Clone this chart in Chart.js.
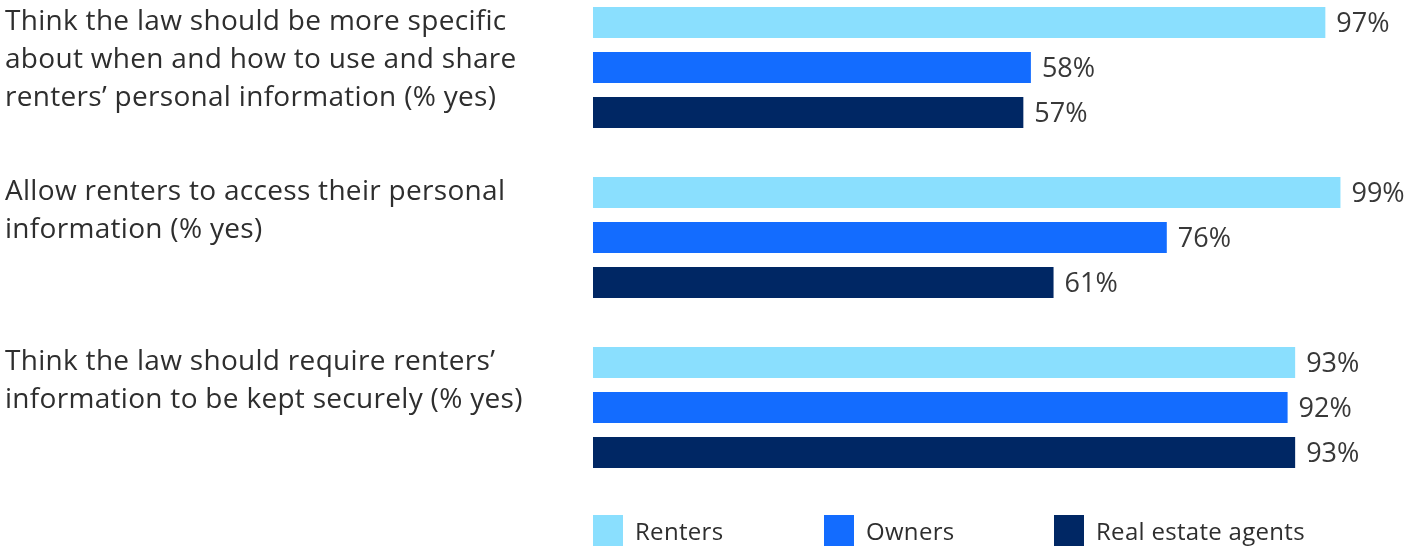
<!DOCTYPE html>
<html>
<head>
<meta charset="utf-8">
<script src="https://cdn.jsdelivr.net/npm/chart.js@4.4.1/dist/chart.umd.min.js"></script>
<style>
  html, body { margin: 0; padding: 0; background: #fff; }
  #wrap { width: 1419px; height: 547px; position: relative; }
</style>
</head>
<body>
<div id="wrap"><canvas id="chart"></canvas></div>
<script>
// Données
const categories = [
  ['Think the law should be more specific', 'about when and how to use and share', 'renters\u2019 personal information (% yes)'],
  ['Allow renters to access their personal', 'information (% yes)'],
  ['Think the law should require renters\u2019', 'information to be kept securely (% yes)']
];
const seriesNames = ['Renters', 'Owners', 'Real estate agents'];
const renters = [97, 99, 93];
const owners = [58, 76, 92];
const agents = [57, 61, 93];
const seriesColors = ['#8adffe', '#136cff', '#002764'];

const FONT = '"Open Sans", "Noto Sans", sans-serif';
const TEXT = '#2e2e2e';

// Étiquettes, valeurs et légende dessinées à la main
const labelsPlugin = {
  id: 'labelsPlugin',
  afterDraw(chart) {
    const ctx = chart.ctx;
    const yScale = chart.scales.y;
    const area = chart.chartArea;
    ctx.save();
    ctx.fillStyle = TEXT;

    // libellés des catégories, alignés sur le haut du groupe
    ctx.font = '28px ' + FONT;
    ctx.letterSpacing = '0.3px';
    ctx.textAlign = 'left';
    ctx.textBaseline = 'middle';
    categories.forEach((lines, i) => {
      const yc = yScale.getPixelForValue(i);
      lines.forEach((line, j) => {
        ctx.fillText(line, 5, yc - 45.5 + j * 38);
      });
    });

    // valeurs au bout des barres
    ctx.font = '27px ' + FONT;
    ctx.letterSpacing = '0px';
    ctx.fillStyle = '#383838';
    chart.data.datasets.forEach((ds, di) => {
      const meta = chart.getDatasetMeta(di);
      meta.data.forEach((bar, i) => {
        ctx.fillText(ds.data[i] + '%', bar.x + 11, bar.y + 2);
      });
    });

    // légende
    ctx.font = '24px ' + FONT;
    ctx.letterSpacing = '0.3px';
    const legendX = [area.left, area.left + 231, area.left + 461];
    chart.data.datasets.forEach((ds, di) => {
      const x = legendX[di];
      ctx.fillStyle = ds.backgroundColor;
      ctx.fillRect(x, 515, 30, 31);
      ctx.fillStyle = TEXT;
      ctx.fillText(ds.label, x + 42, 533);
    });
    ctx.restore();
  }
};

new Chart(document.getElementById('chart'), {
  type: 'bar',
  data: {
    labels: categories.map(c => c.join(' ')),
    datasets: [
      { label: seriesNames[0], data: renters, backgroundColor: seriesColors[0] },
      { label: seriesNames[1], data: owners, backgroundColor: seriesColors[1] },
      { label: seriesNames[2], data: agents, backgroundColor: seriesColors[2] }
    ].map(d => Object.assign(d, { categoryPercentage: 135 / 170, barPercentage: 31 / 45, clip: false }))
  },
  options: {
    indexAxis: 'y',
    responsive: true,
    maintainAspectRatio: false,
    animation: false,
    layout: { padding: { left: 593, right: 71, top: 67.5, bottom: 139.5 } },
    plugins: {
      legend: { display: false },
      tooltip: { enabled: false }
    },
    scales: {
      x: { display: false, min: 0, max: 100 },
      y: { display: false, offset: false }
    }
  },
  plugins: [labelsPlugin]
});
</script>
</body>
</html>
